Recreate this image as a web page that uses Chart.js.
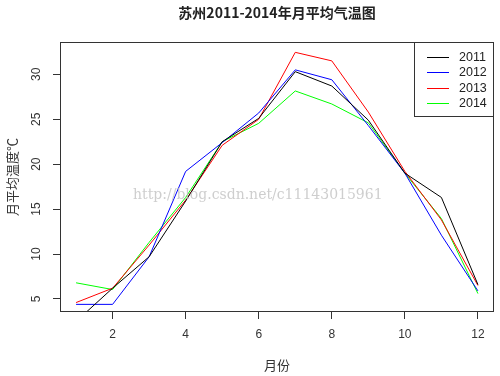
<!DOCTYPE html>
<html>
<head>
<meta charset="utf-8">
<script src="https://cdn.jsdelivr.net/npm/chart.js@4/dist/chart.umd.min.js"></script>
<style>
html,body{margin:0;padding:0;background:#fff;}
#wrap{width:500px;height:376px;}
</style>
</head>
<body>
<div id="wrap"><canvas id="c" width="500" height="376"></canvas></div>
<script>
const months = [1,2,3,4,5,6,7,8,9,10,11,12];
const t2011 = [2.5, 6.2, 9.7, 15.9, 22.5, 25.1, 30.3, 28.7, 24.9, 19.0, 16.3, 6.6];
const t2012 = [4.4, 4.4, 9.7, 19.2, 22.4, 25.7, 30.5, 29.4, 24.3, 19.0, 12.1, 5.9];
const t2013 = [4.6, 6.2, 11.0, 16.0, 22.1, 25.0, 32.45, 31.5, 25.8, 19.2, 13.8, 6.5];
const t2014 = [6.8, 6.05, 11.3, 16.3, 22.5, 24.55, 28.15, 26.7, 24.6, 19.0, 13.95, 5.6];
const seriesNames = ['2011','2012','2013','2014'];
const xTicks = [2,4,6,8,10,12];
const yTicks = [5,10,15,20,25,30];
const titleText = '苏州2011-2014年月平均气温图';
const xTitle = '月份';
const yTitle = '月平均温度℃';
const watermark = 'http://blog.csdn.net/c11143015961';

const colors = ['#000000','#0000ff','#ff0000','#00ff00'];
const allSeries = [t2011,t2012,t2013,t2014];

const datasets = allSeries.map((s,i)=>({
  label: seriesNames[i],
  data: months.map((m,j)=>({x:m,y:s[j]})),
  borderColor: colors[i],
  backgroundColor: colors[i],
  borderWidth: 1,
  pointRadius: 0,
  tension: 0,
  fill: false
}));

const cjk = '"Liberation Sans", Arial, "Noto Sans CJK SC", sans-serif';

const deco = {
  id: 'deco',
  afterDraw(chart){
    const ctx = chart.ctx;
    const a = chart.chartArea;
    const xs = chart.scales.x, ys = chart.scales.y;
    ctx.save();
    // frame
    ctx.strokeStyle = '#333';
    ctx.lineWidth = 1;
    ctx.strokeRect(Math.round(a.left)+0.5, Math.round(a.top)+0.5, Math.round(a.right-a.left)-1, Math.round(a.bottom-a.top)-1);
    // y tick labels rotated
    ctx.fillStyle = '#333';
    ctx.font = '12px ' + cjk;
    ctx.textAlign = 'center';
    ctx.textBaseline = 'middle';
    yTicks.forEach(v=>{
      const y = ys.getPixelForValue(v);
      ctx.save();
      ctx.translate(37, y);
      ctx.rotate(-Math.PI/2);
      ctx.fillText(String(v), 0, 0);
      ctx.restore();
    });
    // title
    ctx.fillStyle = '#222';
    ctx.font = 'bold 14px "Noto Sans CJK SC", "Liberation Sans", sans-serif';
    ctx.fillText(titleText, (a.left+a.right)/2, 13);
    // axis titles
    ctx.font = '13px "Noto Sans CJK SC", sans-serif';
    ctx.fillStyle = '#333';
    ctx.fillText(xTitle, (a.left+a.right)/2, 365);
    ctx.save();
    ctx.translate(12, (a.top+a.bottom)/2);
    ctx.rotate(-Math.PI/2);
    ctx.fillText(yTitle, 0, 0);
    ctx.restore();
    // watermark
    ctx.font = '14px "DejaVu Serif", "Liberation Serif", serif';
    ctx.fillStyle = 'rgba(190,190,190,0.75)';
    ctx.textAlign = 'left';
    ctx.fillText(watermark, 133, 195);
    // legend
    const lx = 414.5, ly = 42.5, lw = 79, lh = 74;
    ctx.fillStyle = '#fff';
    ctx.fillRect(lx, ly, lw, lh);
    ctx.strokeStyle = '#333';
    ctx.strokeRect(lx, ly, lw, lh);
    ctx.font = '12.5px ' + cjk;
    ctx.textBaseline = 'middle';
    seriesNames.forEach((n,i)=>{
      const yy = 57 + i*15.3;
      ctx.strokeStyle = colors[i];
      ctx.lineWidth = 1;
      ctx.beginPath();
      ctx.moveTo(427, Math.round(yy)+0.5);
      ctx.lineTo(449, Math.round(yy)+0.5);
      ctx.stroke();
      ctx.fillStyle = '#222';
      ctx.fillText(n, 459, yy+0.5);
    });
    ctx.restore();
  }
};

new Chart(document.getElementById('c'), {
  type: 'line',
  data: { datasets },
  options: {
    responsive: false,
    animation: false,
    devicePixelRatio: 1,
    layout: { padding: { top: 42, right: 6, left: 0, bottom: 0 } },
    plugins: { legend: { display: false }, title: { display: false }, tooltip: { enabled: false } },
    scales: {
      x: {
        type: 'linear',
        min: 0.56, max: 12.44,
        afterBuildTicks(s){ s.ticks = xTicks.map(v=>({value:v})); },
        afterFit(s){ s.height = 64; },
        grid: { display: true, drawOnChartArea: false, drawTicks: true, tickLength: 7, color: '#333' },
        border: { display: false },
        ticks: { color: '#333', font: { size: 12, family: '"Liberation Sans", Arial, sans-serif' }, padding: 8, maxRotation: 0, autoSkip: false }
      },
      y: {
        type: 'linear',
        min: 3.55, max: 33.6,
        afterBuildTicks(s){ s.ticks = yTicks.map(v=>({value:v})); },
        afterFit(s){ s.width = 60; },
        grid: { display: true, drawOnChartArea: false, drawTicks: true, tickLength: 7, color: '#333' },
        border: { display: false },
        ticks: { display: false }
      }
    }
  },
  plugins: [deco]
});
</script>
</body>
</html>
